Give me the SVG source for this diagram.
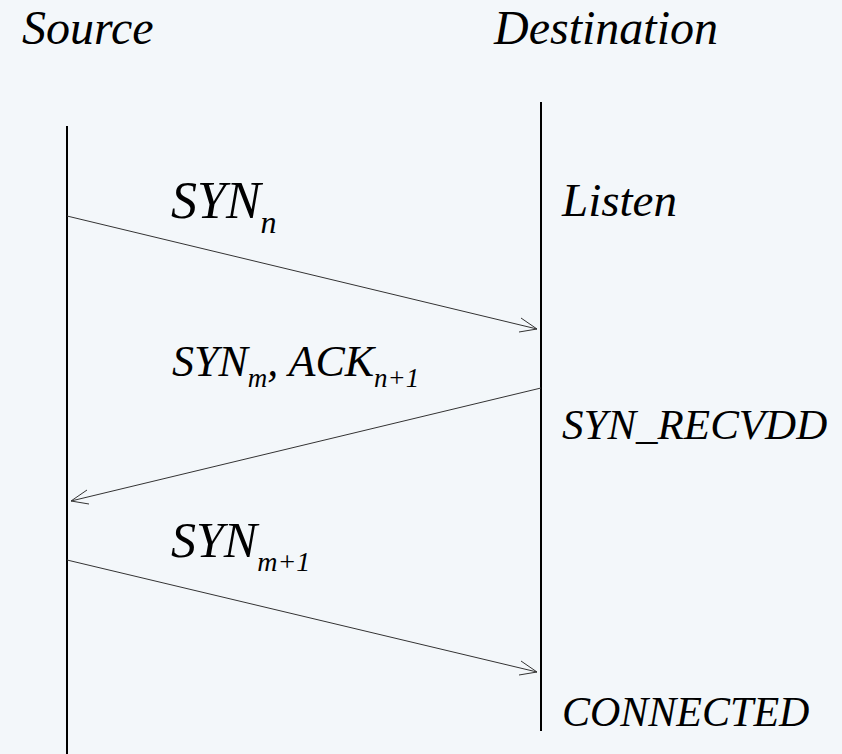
<svg xmlns="http://www.w3.org/2000/svg" width="842" height="754" viewBox="0 0 842 754">
<style>
text{font-family:"Liberation Serif","Times New Roman",serif;font-style:italic;fill:#000}
.life{stroke:#000;stroke-width:2;fill:none}
.msg{stroke:#333;stroke-width:1;fill:none}
.head{stroke:#333;stroke-width:1;fill:none}
</style>
<rect width="842" height="754" fill="#f3f7fa"/>
<g id="source">
<text x="22" y="44" font-size="48">Source</text>
<line class="life" x1="67" y1="126" x2="67" y2="754"/>
</g>
<g id="destination">
<text x="494" y="44" font-size="48">Destination</text>
<line class="life" x1="541" y1="102" x2="541" y2="731"/>
</g>
<g id="state-listen"><text x="562" y="216" font-size="47">Listen</text></g>
<g id="state-synrecvdd"><text x="562" y="439" font-size="43">SYN_RECVDD</text></g>
<g id="state-connected"><text x="562" y="726" font-size="42">CONNECTED</text></g>
<g id="connectors">
<line class="msg" x1="67" y1="216" x2="537" y2="329"/>
<polyline class="head" points="521,318 537,329 519,332"/>
<line class="msg" x1="541" y1="388" x2="71" y2="501"/>
<polyline class="head" points="87,490 71,501 89,504"/>
<line class="msg" x1="67" y1="560" x2="537" y2="672"/>
<polyline class="head" points="521,661 537,672 519,675"/>
</g>
<g id="label-syn-n"><text x="171" y="218" font-size="52">SYN<tspan font-size="32" dy="15">n</tspan></text></g>
<g id="label-synack"><text x="172" y="376" font-size="44">SYN<tspan font-size="27" dy="11">m</tspan><tspan dy="-11">, ACK</tspan><tspan font-size="27" dy="11">n+1</tspan></text></g>
<g id="label-syn-m1"><text x="171" y="557" font-size="50">SYN<tspan font-size="28" dy="14">m+1</tspan></text></g>
</svg>
